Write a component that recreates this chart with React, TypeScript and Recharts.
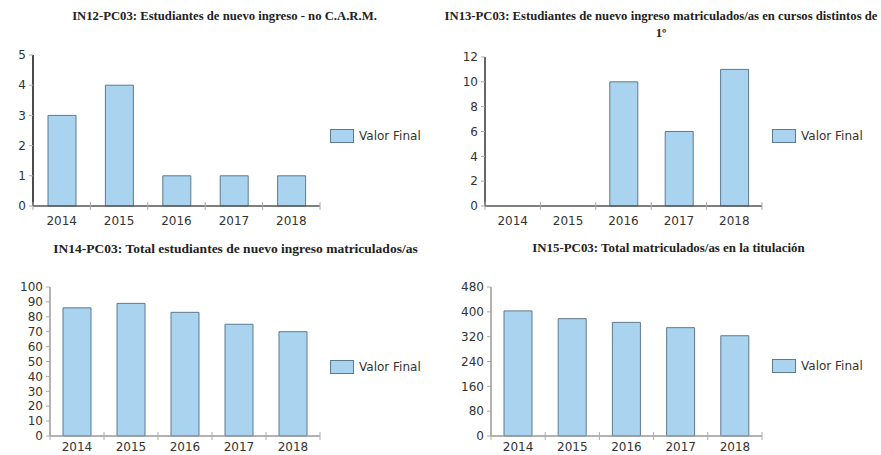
import { BarChart, Bar, XAxis, YAxis } from 'recharts';

const YEARS = ['2014', '2015', '2016', '2017', '2018'];
const IN12 = [3, 4, 1, 1, 1];
const IN13 = [0, 0, 10, 6, 11];
const IN14 = [86, 89, 83, 75, 70];
const IN15 = [403, 378, 366, 349, 323];

const TICKS12 = [0, 1, 2, 3, 4, 5];
const TICKS13 = [0, 2, 4, 6, 8, 10, 12];
const TICKS14 = [0, 10, 20, 30, 40, 50, 60, 70, 80, 90, 100];
const TICKS15 = [0, 80, 160, 240, 320, 400, 480];

const SERIES_NAME = 'Valor Final';
const BAR_FILL = '#a9d3ef';
const BAR_STROKE = '#5d7a8e';
const AXIS_Y = 206;

const toRows = (vals: number[]) => YEARS.map((year, i) => ({ year, value: vals[i] }));

const YearTick = ({ x, payload, index, band, labelY, tickColor }: any) => {
  const half = band / 2;
  return (
    <g>
      <line x1={x - half} x2={x - half} y1={AXIS_Y - 4} y2={AXIS_Y + 4} stroke={tickColor} />
      {index === YEARS.length - 1 && (
        <line x1={x + half} x2={x + half} y1={AXIS_Y - 4} y2={AXIS_Y + 4} stroke={tickColor} />
      )}
      <text x={x} y={labelY} textAnchor="middle" fontSize={12} fill="#333" fontFamily="DejaVu Sans">
        {payload.value}
      </text>
    </g>
  );
};

const LegendBox = ({ left, top }: { left: number; top: number }) => (
  <div style={{ position: 'absolute', left, top, display: 'flex', alignItems: 'center', fontFamily: 'DejaVu Sans', fontSize: 12, color: '#333', whiteSpace: 'nowrap' }}>
    <span style={{ display: 'inline-block', width: 22, height: 12, background: BAR_FILL, border: `1px solid ${BAR_STROKE}`, marginRight: 5 }} />
    {SERIES_NAME}
  </div>
);

interface PanelProps {
  left: number;
  top: number;
  width: number;
  height: number;
  vals: number[];
  ticks: number[];
  yWidth: number;
  plotRight: number;
  plotTop: number;
  legendTop: number;
  yAxisColor: string;
  xAxisColor: string;
  labelY: number;
}

function Panel(p: PanelProps) {
  const band = (p.plotRight - p.yWidth) / YEARS.length;
  return (
    <div style={{ position: 'absolute', left: p.left, top: p.top, width: p.width, height: p.height }}>
      <BarChart
        width={p.width}
        height={p.height}
        data={toRows(p.vals)}
        margin={{ top: p.plotTop, right: p.width - p.plotRight, left: 0, bottom: 0 }}
        barSize={28}
      >
        <XAxis
          dataKey="year"
          height={p.height - AXIS_Y}
          tickLine={false}
          axisLine={{ stroke: p.xAxisColor, strokeWidth: 1.5 }}
          interval={0}
          tick={<YearTick band={band} labelY={p.labelY} tickColor="#aaa" />}
        />
        <YAxis
          width={p.yWidth}
          domain={[0, p.ticks[p.ticks.length - 1]]}
          ticks={p.ticks}
          interval={0}
          tickSize={4}
          tickMargin={3}
          tickLine={{ stroke: '#aaa' }}
          axisLine={{ stroke: p.yAxisColor, strokeWidth: 1.5 }}
          tick={{ fill: '#333', fontSize: 12, fontFamily: 'DejaVu Sans' }}
        />
        <Bar dataKey="value" name={SERIES_NAME} fill={BAR_FILL} stroke={BAR_STROKE} strokeWidth={1} isAnimationActive={false} />
      </BarChart>
      <LegendBox left={p.plotRight + 10} top={p.legendTop} />
    </div>
  );
}

const titleStyle = (left: number, top: number, width: number, size: number): React.CSSProperties => ({
  position: 'absolute',
  left,
  top,
  width,
  textAlign: 'center',
  fontFamily: '"Liberation Serif", serif',
  fontWeight: 'bold',
  fontSize: size,
  lineHeight: '17px',
  color: '#222',
  whiteSpace: 'nowrap',
});

export default function App() {
  return (
    <div style={{ position: 'absolute', left: 0, top: 0, width: 881, height: 455, background: '#fff', overflow: 'hidden' }}>
      <Panel left={0} top={0} width={440} height={230} vals={IN12} ticks={TICKS12} yWidth={33}
        plotRight={320} plotTop={55} legendTop={129} yAxisColor="#111" xAxisColor="#555" labelY={225} />
      <Panel left={440} top={0} width={441} height={230} vals={IN13} ticks={TICKS13} yWidth={45}
        plotRight={322} plotTop={57} legendTop={129} yAxisColor="#333" xAxisColor="#555" labelY={225} />
      <Panel left={0} top={230} width={440} height={225} vals={IN14} ticks={TICKS14} yWidth={50}
        plotRight={320} plotTop={57} legendTop={130} yAxisColor="#999" xAxisColor="#999" labelY={221} />
      <Panel left={440} top={230} width={441} height={225} vals={IN15} ticks={TICKS15} yWidth={51}
        plotRight={322} plotTop={57} legendTop={129} yAxisColor="#999" xAxisColor="#999" labelY={221} />

      <div style={titleStyle(0, 8, 449, 12.7)}>IN12-PC03: Estudiantes de nuevo ingreso - no C.A.R.M.</div>
      <div style={titleStyle(440, 8, 442, 12.7)}>
        IN13-PC03: Estudiantes de nuevo ingreso matriculados/as en cursos distintos de
        <br />1º
      </div>
      <div style={titleStyle(0, 240, 471, 13.5)}>IN14-PC03: Total estudiantes de nuevo ingreso matriculados/as</div>
      <div style={titleStyle(440, 240, 457, 12.9)}>IN15-PC03: Total matriculados/as en la titulación</div>
    </div>
  );
}
